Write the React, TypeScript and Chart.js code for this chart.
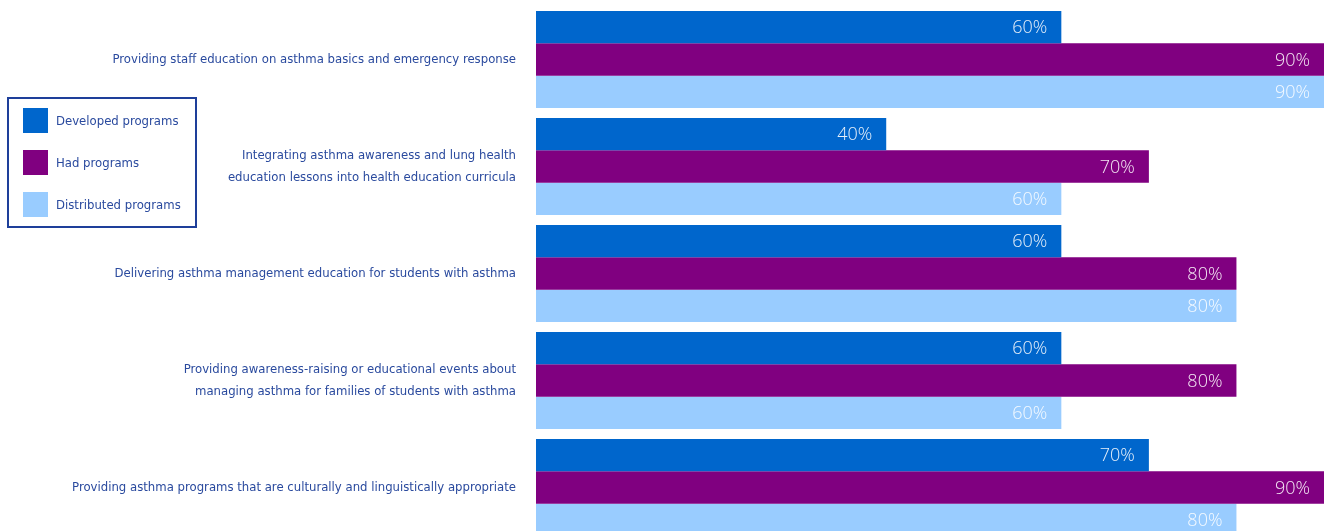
import React, { useEffect, useRef } from "react";
import { Chart, registerables } from "chart.js";

Chart.register(...registerables);

const categories: (string | string[])[] = [
  "Providing staff education on asthma basics and emergency response",
  ["Integrating asthma awareness and lung health", "education lessons into health education curricula"],
  "Delivering asthma management education for students with asthma",
  ["Providing awareness-raising or educational events about", "managing asthma for families of students with asthma"],
  "Providing asthma programs that are culturally and linguistically appropriate",
];
const developedPrograms = [60, 40, 60, 60, 70];
const hadPrograms = [90, 70, 80, 80, 90];
const distributedPrograms = [90, 60, 80, 60, 80];
const seriesLabels = ["Developed programs", "Had programs", "Distributed programs"];

const seriesColors = ["#0066CC", "#800080", "#99CCFF"];
const textColor = "#2A4A9E";
const labelFont = "'Liberation Sans Narrow', 'DejaVu Sans Condensed', sans-serif";
const valueFont = "'Open Sans', Lato, Roboto, sans-serif";

const valueLabelPlugin = {
  id: "valueLabels",
  afterDatasetsDraw(chart: any) {
    const ctx = chart.ctx;
    ctx.save();
    ctx.font = `300 18px ${valueFont}`;
    ctx.fillStyle = "rgba(255,255,255,0.9)";
    ctx.textAlign = "right";
    ctx.textBaseline = "middle";
    chart.data.datasets.forEach((ds: any, i: number) => {
      const meta = chart.getDatasetMeta(i);
      meta.data.forEach((bar: any, j: number) => {
        ctx.fillText(`${ds.data[j]}%`, bar.x - 14, bar.y + 1);
      });
    });
    ctx.restore();
  },
};

const boxLegendPlugin = {
  id: "boxLegend",
  afterDraw(chart: any) {
    const ctx = chart.ctx;
    ctx.save();
    ctx.strokeStyle = "#1E3F9A";
    ctx.lineWidth = 2;
    ctx.strokeRect(8, 98, 188, 129);
    ctx.font = `13px ${labelFont}`;
    ctx.textAlign = "left";
    ctx.textBaseline = "middle";
    chart.data.datasets.forEach((ds: any, i: number) => {
      const cy = 120.5 + i * 42;
      ctx.fillStyle = ds.backgroundColor;
      ctx.fillRect(23, cy - 12.5, 25, 25);
      ctx.fillStyle = textColor;
      ctx.fillText(ds.label, 56, cy + 1);
    });
    ctx.restore();
  },
};

export default function App() {
  const ref = useRef<HTMLCanvasElement | null>(null);

  useEffect(() => {
    if (!ref.current) return;
    const seriesValues = [developedPrograms, hadPrograms, distributedPrograms];
    const chart = new Chart(ref.current, {
      type: "bar",
      data: {
        labels: categories,
        datasets: seriesValues.map((vals, i) => ({
          label: seriesLabels[i],
          data: vals,
          backgroundColor: seriesColors[i],
          borderWidth: 0,
          barPercentage: 1,
          categoryPercentage: 0.907,
        })),
      },
      options: {
        indexAxis: "y",
        animation: false,
        responsive: false,
        maintainAspectRatio: false,
        layout: { padding: { top: 6, bottom: 0, left: 0, right: 0 } },
        plugins: {
          legend: { display: false },
          tooltip: { enabled: false },
        },
        scales: {
          x: {
            display: false,
            min: 0,
            max: 90,
          },
          y: {
            grid: { display: false, drawTicks: false },
            border: { display: false },
            ticks: {
              color: textColor,
              padding: 20,
              font: { family: labelFont, size: 13, lineHeight: 1.75 },
            },
            afterFit(scale: any) {
              scale.width = 536;
              scale.paddingTop = 0;
              scale.paddingBottom = 0;
            },
          },
        },
      },
      plugins: [valueLabelPlugin, boxLegendPlugin],
    } as any);
    return () => chart.destroy();
  }, []);

  return (
    <div style={{ position: "fixed", top: 0, left: 0, width: 1324, height: 531, overflow: "hidden", background: "#fff" }}>
      <canvas ref={ref} width={1324} height={541} style={{ width: 1324, height: 541, display: "block" }} />
    </div>
  );
}
